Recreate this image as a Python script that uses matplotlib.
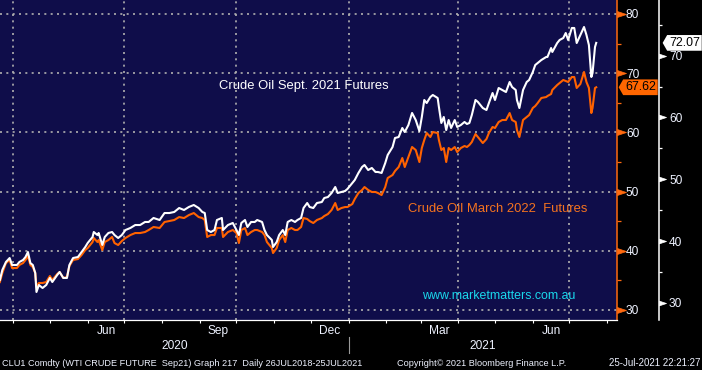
import matplotlib
matplotlib.use("Agg")
import matplotlib.pyplot as plt
import matplotlib.dates as mdates
from matplotlib.path import Path
from matplotlib.markers import MarkerStyle
from matplotlib.ticker import MultipleLocator, FixedLocator, FixedFormatter, NullFormatter
import pandas as pd

plt.rcParams['font.family'] = ['Liberation Sans', 'DejaVu Sans']

# ---------------- data ----------------
dates = [
    "2020-03-21", "2020-03-23", "2020-03-26", "2020-03-29", "2020-03-31", "2020-04-04", "2020-04-06",
    "2020-04-09", "2020-04-11", "2020-04-13", "2020-04-15", "2020-04-17", "2020-04-19", "2020-04-20",
    "2020-04-22", "2020-04-25", "2020-04-28", "2020-05-01", "2020-05-03", "2020-05-07", "2020-05-09",
    "2020-05-12", "2020-05-15", "2020-05-17", "2020-05-20", "2020-05-24", "2020-05-27", "2020-05-30",
    "2020-06-01", "2020-06-05", "2020-06-06", "2020-06-09", "2020-06-10", "2020-06-13", "2020-06-15",
    "2020-06-18", "2020-06-21", "2020-06-23", "2020-06-26", "2020-06-29", "2020-07-02", "2020-07-06",
    "2020-07-10", "2020-07-14", "2020-07-18", "2020-07-21", "2020-07-25", "2020-07-30", "2020-08-03",
    "2020-08-07", "2020-08-11", "2020-08-15", "2020-08-19", "2020-08-23", "2020-08-27", "2020-08-31",
    "2020-09-03", "2020-09-05", "2020-09-07", "2020-09-10", "2020-09-13", "2020-09-15", "2020-09-19",
    "2020-09-20", "2020-09-24", "2020-09-28", "2020-10-01", "2020-10-03", "2020-10-05", "2020-10-08",
    "2020-10-10", "2020-10-13", "2020-10-16", "2020-10-18", "2020-10-22", "2020-10-24", "2020-10-26",
    "2020-10-30", "2020-10-31", "2020-11-03", "2020-11-05", "2020-11-08", "2020-11-10", "2020-11-12",
    "2020-11-15", "2020-11-18", "2020-11-20", "2020-11-23", "2020-11-25", "2020-11-28", "2020-11-30",
    "2020-12-03", "2020-12-06", "2020-12-10", "2020-12-12", "2020-12-15", "2020-12-18", "2020-12-21",
    "2020-12-23", "2020-12-26", "2020-12-29", "2020-12-31", "2021-01-04", "2021-01-06", "2021-01-09",
    "2021-01-12", "2021-01-14", "2021-01-17", "2021-01-20", "2021-01-23", "2021-01-25", "2021-01-28",
    "2021-01-31", "2021-02-02", "2021-02-06", "2021-02-08", "2021-02-11", "2021-02-14", "2021-02-16",
    "2021-02-19", "2021-02-22", "2021-02-25", "2021-02-28", "2021-03-02", "2021-03-04", "2021-03-06",
    "2021-03-09", "2021-03-11", "2021-03-15", "2021-03-16", "2021-03-18", "2021-03-20", "2021-03-22",
    "2021-03-24", "2021-03-26", "2021-03-29", "2021-03-31", "2021-04-03", "2021-04-06", "2021-04-08",
    "2021-04-10", "2021-04-12", "2021-04-15", "2021-04-17", "2021-04-21", "2021-04-24", "2021-04-26",
    "2021-04-29", "2021-05-01", "2021-05-04", "2021-05-07", "2021-05-10", "2021-05-13", "2021-05-15",
    "2021-05-18", "2021-05-19", "2021-05-21", "2021-05-24", "2021-05-27", "2021-05-29", "2021-06-01",
    "2021-06-03", "2021-06-05", "2021-06-08", "2021-06-12", "2021-06-13", "2021-06-16", "2021-06-17",
    "2021-06-21", "2021-06-23", "2021-06-26", "2021-06-28", "2021-06-30", "2021-07-03", "2021-07-05",
    "2021-07-07", "2021-07-10", "2021-07-13", "2021-07-15", "2021-07-17", "2021-07-19", "2021-07-20",
    "2021-07-22", "2021-07-23",
]

sep21 = [
    33.70, 35.32, 36.62, 37.26, 36.13, 36.13, 36.62, 36.94, 37.42, 38.23, 36.45, 36.13, 34.84, 31.76,
    32.89, 32.41, 32.89, 34.03, 33.38, 34.51, 35.00, 34.03, 34.03, 36.13, 37.26, 37.42, 38.23, 39.04,
    39.69, 40.66, 41.47, 40.98, 41.31, 39.37, 40.66, 41.31, 41.47, 40.98, 40.50, 40.98, 41.79, 42.12,
    42.60, 42.60, 43.09, 43.09, 43.74, 43.41, 44.54, 44.54, 44.71, 45.35, 45.03, 45.52, 45.84, 45.35,
    44.71, 44.54, 41.79, 41.47, 41.79, 43.41, 43.74, 41.79, 42.60, 42.93, 41.79, 40.98, 42.93, 43.41,
    42.28, 43.09, 43.09, 43.41, 43.09, 41.79, 40.98, 40.18, 39.04, 39.85, 40.98, 41.79, 40.98, 43.09,
    43.41, 43.09, 43.41, 43.74, 45.35, 46.16, 45.52, 45.35, 46.16, 46.32, 46.97, 47.13, 47.78, 48.75,
    47.78, 47.94, 48.10, 48.43, 49.40, 49.88, 51.02, 51.99, 52.31, 51.50, 51.83, 51.18, 51.18, 51.02,
    52.63, 53.93, 55.22, 56.68, 56.84, 58.30, 57.65, 58.78, 60.73, 59.59, 57.81, 60.08, 62.83, 62.34,
    63.31, 63.64, 63.15, 61.70, 59.11, 60.08, 57.97, 59.59, 58.30, 59.59, 58.46, 58.78, 59.27, 58.95,
    59.11, 60.40, 62.83, 62.51, 61.53, 61.21, 62.34, 63.96, 62.83, 64.77, 64.45, 64.12, 65.74, 64.93,
    64.45, 62.83, 61.53, 64.45, 65.74, 66.07, 67.36, 68.49, 68.82, 69.30, 69.79, 69.79, 71.24, 70.60,
    72.05, 72.54, 72.86, 73.67, 72.54, 74.48, 74.48, 72.05, 73.35, 74.64, 73.35, 71.73, 66.55, 67.20,
    71.40, 72.07,
]

mar22 = [
    34.72, 36.24, 37.93, 38.44, 37.09, 37.09, 37.60, 37.93, 38.44, 39.12, 37.60, 37.26, 36.24, 33.88,
    34.56, 34.56, 34.72, 35.74, 35.06, 36.08, 36.41, 35.40, 35.57, 37.43, 38.44, 38.61, 39.29, 40.13,
    40.47, 41.48, 42.16, 41.48, 41.82, 40.13, 41.48, 41.82, 42.33, 41.31, 40.97, 41.65, 42.16, 42.66,
    43.00, 43.00, 43.17, 43.51, 44.02, 43.85, 44.86, 45.03, 45.20, 45.70, 45.53, 46.04, 46.38, 45.70,
    45.53, 45.20, 42.33, 42.66, 42.66, 43.85, 43.85, 42.33, 43.17, 43.51, 43.00, 41.31, 43.51, 43.85,
    42.66, 43.17, 43.51, 43.51, 43.17, 42.66, 41.48, 40.47, 39.62, 40.47, 41.82, 42.66, 41.48, 43.51,
    43.85, 43.51, 43.51, 44.02, 45.53, 45.37, 45.03, 44.69, 45.20, 45.53, 45.87, 46.21, 46.89, 48.07,
    46.89, 47.22, 47.39, 47.39, 47.90, 48.74, 49.76, 50.27, 50.77, 50.27, 49.93, 49.93, 49.76, 49.42,
    50.77, 52.29, 52.80, 53.47, 54.15, 55.67, 54.15, 55.84, 57.53, 57.02, 54.99, 57.36, 58.71, 59.89,
    59.22, 60.06, 59.89, 58.71, 57.02, 57.36, 54.99, 57.36, 57.02, 57.53, 56.68, 57.36, 57.70, 57.53,
    57.87, 58.37, 59.72, 59.22, 58.20, 58.88, 59.89, 60.91, 60.74, 61.75, 62.09, 62.09, 63.27, 62.09,
    61.75, 60.40, 59.22, 62.09, 62.60, 62.93, 64.12, 64.45, 64.96, 65.81, 65.97, 66.14, 66.48, 67.16,
    68.00, 68.34, 68.85, 68.68, 68.51, 69.35, 69.35, 67.50, 68.17, 70.20, 68.51, 67.50, 63.27, 64.12,
    67.50, 67.62,
]

quarter_dates = ["2020-04-01", "2020-07-01", "2020-10-01", "2021-01-01", "2021-04-01", "2021-07-01"]
month_labels = ["Jun", "Sep", "Dec", "Mar", "Jun"]
month_label_dates = ["2020-06-16", "2020-09-16", "2020-12-16", "2021-03-16", "2021-06-16"]
year_labels = ["2020", "2021"]
year_break = "2021-01-01"
sep21_text = "Crude Oil Sept. 2021 Futures"
mar22_text = "Crude Oil March 2022  Futures"
website = "www.marketmatters.com.au"
footer_left = "CLU1 Comdty (WTI CRUDE FUTURE  Sep21) Graph 217  Daily 26JUL2018-25JUL2021"
footer_mid = "Copyright\u00a9 2021 Bloomberg Finance L.P."
footer_right = "25-Jul-2021 22:21:27"

# ---------------- styling ----------------
NAVY = "#0f0d4a"
ORANGE = "#ff6200"
ORANGE_AX = "#ff6a10"
ORANGE_TXT = "#f5731f"
CYAN = "#1ad8ec"
LABEL = "#eef2ff"
GRID = "#b0b0b0"
GRID_STYLE = (0, (1.2, 2.6))
PX = 72.0 / 100.0  # points per pixel

W, H = 702, 370
fig = plt.figure(figsize=(W / 100, H / 100), dpi=100, facecolor="black")
AXW_PX, AXH_PX, AXB_PX = 616.7, 320.0, 50.0
ax = fig.add_axes([0, AXB_PX / H, AXW_PX / W, AXH_PX / H])
ax.set_facecolor(NAVY)
ax_w = ax.twinx()

x = pd.to_datetime(dates)
origin = pd.Timestamp("2020-04-01")
ax.set_xlim(origin - pd.Timedelta(days=10.9), origin + pd.Timedelta(days=494.8))
ax.set_ylim(28.31, 82.36)
ax_w.set_ylim(27.23, 79.01)

# grid
ax.set_axisbelow(True)
ax.yaxis.grid(True, which="major", color=GRID, lw=1.2, linestyle=GRID_STYLE)
for q in quarter_dates:
    ax.axvline(pd.Timestamp(q), color=GRID, lw=1.2, linestyle=GRID_STYLE, zorder=0.5)

# series
ax.plot(x, mar22, color=ORANGE, lw=1.5, zorder=3, solid_joinstyle="round")
ax_w.plot(x, sep21, color="white", lw=1.5, zorder=3, solid_joinstyle="round")

# spines
for s in ["top", "left"]:
    ax.spines[s].set_visible(False)
ax.spines["right"].set_color(ORANGE_AX)
ax.spines["right"].set_linewidth(1.1)
ax.spines["bottom"].set_color("white")
ax.spines["bottom"].set_linewidth(0.9)
for s in ["top", "left", "bottom"]:
    ax_w.spines[s].set_visible(False)
ax_w.spines["right"].set_position(("axes", 659.3 / AXW_PX))
ax_w.spines["right"].set_color("white")
ax_w.spines["right"].set_linewidth(1.1)

# x axis
ax.xaxis.set_major_locator(mdates.MonthLocator())
ax.xaxis.set_major_formatter(NullFormatter())
ax.xaxis.set_minor_locator(FixedLocator(mdates.date2num(pd.to_datetime(month_label_dates))))
ax.xaxis.set_minor_formatter(FixedFormatter(month_labels))
ax.tick_params(axis="x", which="major", direction="out", length=3 * PX, width=0.8, color="white")
ax.tick_params(axis="x", which="minor", length=0, pad=3.6, labelsize=8.6, labelcolor=LABEL)

# orange y axis (inner right)
ax.yaxis.tick_right()
ax.yaxis.set_major_locator(MultipleLocator(10))
ax.yaxis.set_minor_locator(MultipleLocator(5))
o_size = 18 * PX
ax.tick_params(axis="y", which="major", left=False, right=True, direction="out", length=o_size,
               width=0.5, color=ORANGE_AX, labelcolor=LABEL, labelsize=8.6, pad=9.3 * PX - o_size)
ax.tick_params(axis="y", which="minor", left=False, right=True, direction="out", length=4 * PX,
               width=0.9, color=ORANGE_AX)

# white y axis (outer right)
ax_w.yaxis.set_major_locator(MultipleLocator(10))
ax_w.yaxis.set_minor_locator(MultipleLocator(5))
w_size = 14 * PX
ax_w.tick_params(axis="y", which="major", direction="out", length=w_size, width=0.5, color="white",
                 labelcolor=LABEL, labelsize=8.6, pad=9.7 * PX - w_size)
ax_w.tick_params(axis="y", which="minor", direction="out", length=3 * PX, width=0.9, color="white")

# texts inside plot
ax.text(219 / AXW_PX, 1 - 86 / AXH_PX, sep21_text, transform=ax.transAxes, ha="left", va="center",
        fontsize=9.35, color="white")
ax.text(408 / AXW_PX, 1 - 209 / AXH_PX, mar22_text, transform=ax.transAxes, ha="left", va="center",
        fontsize=9.35, color=ORANGE_TXT)
ax.text(421.7 / AXW_PX, 1 - 295.7 / AXH_PX, website, transform=ax.transAxes, ha="left", va="center",
        fontsize=8.9, color=CYAN)

# year labels and separator
xl0, xl1 = ax.get_xlim()
yb = mdates.date2num(pd.Timestamp(year_break))
ax.text((xl0 + yb) / 2, -25.7 / AXH_PX, year_labels[0], transform=ax.get_xaxis_transform(),
        ha="center", va="center", fontsize=8.6, color=LABEL)
ax.text((yb + xl1) / 2, -25.7 / AXH_PX, year_labels[1], transform=ax.get_xaxis_transform(),
        ha="center", va="center", fontsize=8.6, color=LABEL)
ax.axvline(yb, ymin=-33 / AXH_PX, ymax=-17 / AXH_PX, color="#9a9a9a", lw=0.8, clip_on=False)


# value tags
def make_tag(tip):
    def tag(x0, y0, width, height, mutation_size):
        pad = 0.15 * mutation_size
        x0 -= pad
        y0 -= pad
        x1 = x0 + width + 2 * pad
        y1 = y0 + height + 2 * pad
        ym = 0.5 * (y0 + y1)
        return Path([(x0, y0), (x1, y0), (x1, y1), (x0, y1), (x0 - tip, ym), (x0, y0)], closed=True)
    return tag


ax_w.text(669 / AXW_PX, sep21[-1], f"{sep21[-1]:.2f}", transform=ax_w.get_yaxis_transform(),
          ha="left", va="center", fontsize=8.9, color="black", clip_on=False, zorder=10,
          bbox=dict(boxstyle=make_tag(4.5), fc="white", ec="none"))
ax_w.text(625 / AXW_PX, mar22[-1], f"{mar22[-1]:.2f}", transform=ax.get_yaxis_transform(),
          ha="left", va="center", fontsize=8.9, color="black", clip_on=False, zorder=10,
          bbox=dict(boxstyle=make_tag(4.5), fc="#ff6600", ec="none"))

# footer
fy = (H - 363) / H
fig.text(2 / W, fy, footer_left, ha="left", va="center", fontsize=6.55, color=LABEL)
fig.text(397 / W, fy, footer_mid, ha="left", va="center", fontsize=6.55, color=LABEL)
fig.text(700 / W, fy, footer_right, ha="right", va="center", fontsize=7.0, color=LABEL)

# arrow-shaped major ticks on both right axes
fig.canvas.draw()
tri = MarkerStyle(Path([(0, -0.33), (1, 0), (0, 0.33), (0, -0.33)], closed=True))
for axis_obj, col in ((ax.yaxis, ORANGE_AX), (ax_w.yaxis, "white")):
    for t in axis_obj.get_major_ticks():
        t.tick2line.set_marker(tri)
        t.tick2line.set_markerfacecolor(col)
        t.tick2line.set_markeredgecolor(col)

fig.savefig("out.png", dpi=100, facecolor="black")
